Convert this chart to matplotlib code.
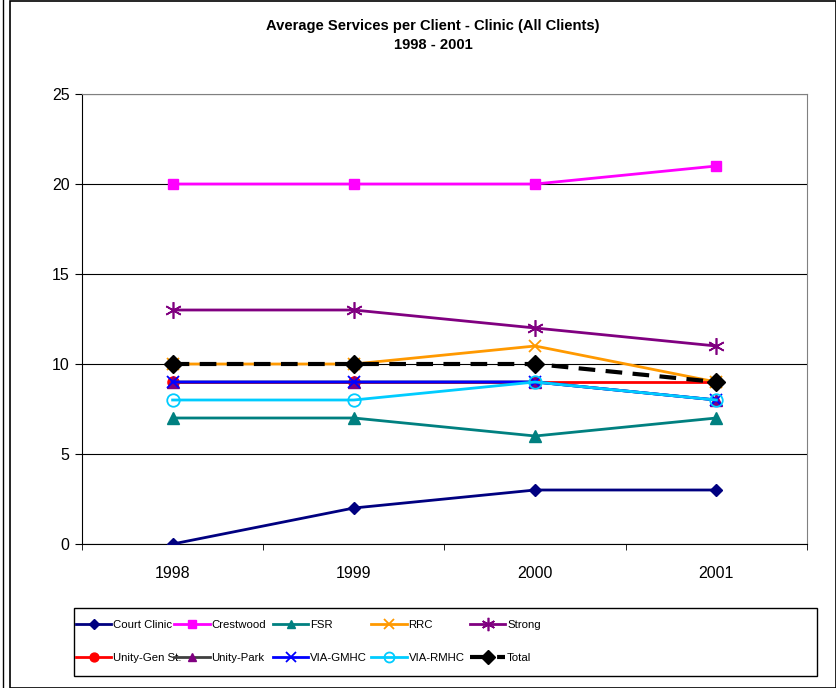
import matplotlib
matplotlib.use("Agg")
import matplotlib.pyplot as plt
from matplotlib.lines import Line2D
from matplotlib.patches import Rectangle

plt.rcParams['font.family'] = ['Liberation Sans', 'DejaVu Sans']

years = ['1998', '1999', '2000', '2001']
court_clinic = [0, 2, 3, 3]
crestwood = [20, 20, 20, 21]
fsr = [7, 7, 6, 7]
rrc = [10, 10, 11, 9]
strong = [13, 13, 12, 11]
unity_gen = [9, 9, 9, 9]
unity_park = [9, 9, 9, 8]
via_gmhc = [9, 9, 9, 8]
via_rmhc = [8, 8, 9, 8]
total = [10, 10, 10, 9]

series = [
    ('Court Clinic', court_clinic, dict(color='#000080', marker='D', ms=6, mfc='#000080', mec='#000080', ls='-')),
    ('Crestwood', crestwood, dict(color='#FF00FF', marker='s', ms=7, mfc='#FF00FF', mec='#FF00FF', ls='-')),
    ('FSR', fsr, dict(color='#008080', marker='^', ms=8, mfc='#008080', mec='#008080', ls='-')),
    ('RRC', rrc, dict(color='#FF9900', marker='x', ms=9, mew=1.3, ls='-')),
    ('Strong', strong, dict(color='#800080', marker=(6, 2, 0), ms=12, mew=1.2, ls='-')),
    ('Unity-Gen St.', unity_gen, dict(color='#FF0000', marker='o', ms=8, mfc='#FF0000', mec='#FF0000', ls='-')),
    ('Unity-Park', unity_park, dict(color='#404040', marker='^', ms=8, mfc='#800080', mec='#800080', ls='-')),
    ('VIA-GMHC', via_gmhc, dict(color='#0000FF', marker='x', ms=9, mew=1.3, ls='-')),
    ('VIA-RMHC', via_rmhc, dict(color='#00CCFF', marker='o', ms=9, mfc='none', mec='#00CCFF', mew=1.3, ls='-')),
    ('Total', total, dict(color='#000000', marker='D', ms=9, mfc='#000000', mec='#000000', ls=(0, (4, 2.5)), lw=3)),
]

fig = plt.figure(figsize=(8.37, 6.88), dpi=100)
W, H = 837, 688
ax = fig.add_axes([82 / W, 1 - 544 / H, (807 - 82) / W, (544 - 94) / H])

x = list(range(len(years)))
handles = []
for name, vals, st in series:
    kw = dict(st)
    lw = kw.pop('lw', 2)
    h, = ax.plot(x, vals, lw=lw, label=name, zorder=3, **kw)
    handles.append(h)

ax.set_xlim(-0.5, 3.5)
ax.set_ylim(0, 25)
ax.set_yticks([0, 5, 10, 15, 20, 25])
ax.set_xticks(x)
ax.set_xticklabels(years)
ax.grid(axis='y', color='black', lw=0.8)
ax.set_axisbelow(True)
for s in ['top', 'right']:
    ax.spines[s].set_color('#808080')
for s in ['left', 'bottom']:
    ax.spines[s].set_color('black')
ax.tick_params(axis='y', labelsize=11.5, direction='out', length=5, color='black', pad=4)
ax.tick_params(axis='x', labelsize=11.5, length=0, pad=16)
ax.set_xticks([-0.5, 0.5, 1.5, 2.5, 3.5], minor=True)
ax.tick_params(axis='x', which='minor', length=4, direction='out')

fig.text(433 / W, 1 - 26 / H, 'Average Services per Client - Clinic (All Clients)',
         ha='center', va='center', fontsize=10.6, fontweight='bold')
fig.text(433 / W, 1 - 45 / H, '1998 - 2001', ha='center', va='center',
         fontsize=10.6, fontweight='bold')

# legend: 5 equally spaced columns, 2 rows, row-wise order
ncol = 5
col_x0 = 76
col_dx = 98.5
for c in range(ncol):
    col_handles = [handles[c], handles[c + ncol]]
    fig.legend(handles=col_handles, loc='upper left',
               bbox_to_anchor=((col_x0 + c * col_dx) / W, 1 - 620 / H),
               fontsize=8.2, frameon=False, handlelength=3.1, handletextpad=0.15,
               borderpad=0.0, borderaxespad=0.0, labelspacing=2.0, markerscale=0.8)

fig.add_artist(Rectangle((74 / W, 1 - 676 / H), (817 - 74) / W, (676 - 608) / H,
                         transform=fig.transFigure, fill=False, edgecolor='black', lw=1.0))

# outer borders
fig.add_artist(Rectangle((10 / W, 0), (836 - 10) / W, 687 / H, transform=fig.transFigure,
                         fill=False, edgecolor='black', lw=1.2))
fig.add_artist(Line2D([3 / W, 3 / W], [0, 1], transform=fig.transFigure, color='black', lw=1))

fig.savefig('out.png', dpi=100)
